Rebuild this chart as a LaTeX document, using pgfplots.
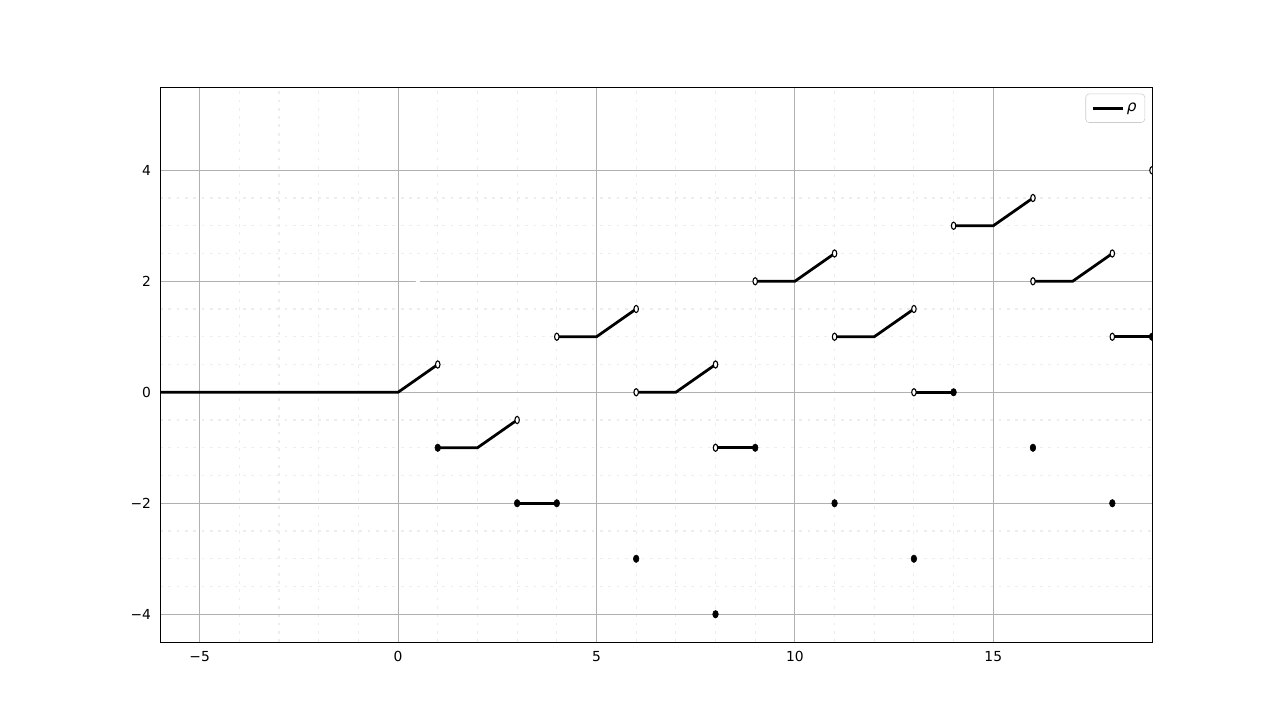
\documentclass[border=0pt]{standalone}
\usepackage{fontspec}
\setmainfont{DejaVu Sans}
\usepackage{pgfplots}
\pgfplotsset{compat=1.18}

\begin{document}
\begin{tikzpicture}[x=1in,y=1in]
\path (0,0) rectangle (12.8,7.21);
\begin{axis}[
    at={(1.6in,0.79in)}, anchor=south west,
    scale only axis,
    width=9.92in, height=5.55in,
    xmin=-6, xmax=19, ymin=-4.5, ymax=5.5,
    xtick={-5,0,5,10,15}, xticklabels={−5,0,5,10,15},
    ytick={-4,-2,0,2,4}, yticklabels={−4,−2,0,2,4},
    minor x tick num=4, minor y tick num=3,
    major tick length=0pt, minor tick length=0pt,
    grid=both,
    major grid style={draw=black!31, line width=0.8pt},
    minor grid style={draw=black!7, line width=0.8pt, dash pattern=on 2pt off 4pt},
    axis line style={line width=0.7pt},
    tick label style={font=\fontsize{10}{12}\selectfont},
    xticklabel style={yshift=-3pt},
    yticklabel style={xshift=-3pt},
    clip marker paths=true,
    legend style={at={(0.993,0.988)}, anchor=north east, draw=black!20,
      rounded corners=2.5pt, font=\fontsize{11}{13}\selectfont,
      inner xsep=4pt, inner ysep=4.5pt},
    legend cell align=left,
    legend image code/.code={\draw[#1] (0cm,0cm) -- (0.30in,0cm);},
]
\addlegendimage{black, line width=2pt}
\addlegendentry{\itshape ρ}
\pgfplotsset{every axis plot/.append style={forget plot}}
% white speck on grid line
\addplot[only marks, mark=*, mark size=1.3pt, white] coordinates {(0.5,2)};
% segments
\addplot[black, line width=2pt] coordinates {(-6,0) (0,0) (1,0.5)};
\addplot[black, line width=2pt] coordinates {(1,-1) (2,-1) (3,-0.5)};
\addplot[black, line width=2pt] coordinates {(3,-2) (4,-2)};
\addplot[black, line width=2pt] coordinates {(4,1) (5,1) (6,1.5)};
\addplot[black, line width=2pt] coordinates {(6,0) (7,0) (8,0.5)};
\addplot[black, line width=2pt] coordinates {(8,-1) (9,-1)};
\addplot[black, line width=2pt] coordinates {(9,2) (10,2) (11,2.5)};
\addplot[black, line width=2pt] coordinates {(11,1) (12,1) (13,1.5)};
\addplot[black, line width=2pt] coordinates {(13,0) (14,0)};
\addplot[black, line width=2pt] coordinates {(14,3) (15,3) (16,3.5)};
\addplot[black, line width=2pt] coordinates {(16,2) (17,2) (18,2.5)};
\addplot[black, line width=2pt] coordinates {(18,1) (19,1)};
% open endpoints
\addplot[only marks, mark=*, mark size=2.6pt,
  mark options={xscale=0.62, fill=white, draw=black, line width=0.8pt}]
  coordinates {(1,0.5) (3,-0.5) (4,1) (6,1.5) (6,0) (8,0.5) (8,-1) (9,2)
    (11,2.5) (11,1) (13,1.5) (13,0) (14,3) (16,3.5) (16,2) (18,2.5) (18,1) (19,4)};
% closed endpoints
\addplot[only marks, mark=*, mark size=2.7pt,
  mark options={xscale=0.75, fill=black, draw=black}]
  coordinates {(1,-1) (3,-2) (4,-2) (6,-3) (8,-4) (9,-1) (11,-2) (13,-3)
    (14,0) (16,-1) (18,-2) (19,1)};
\end{axis}
\end{tikzpicture}
\end{document}
